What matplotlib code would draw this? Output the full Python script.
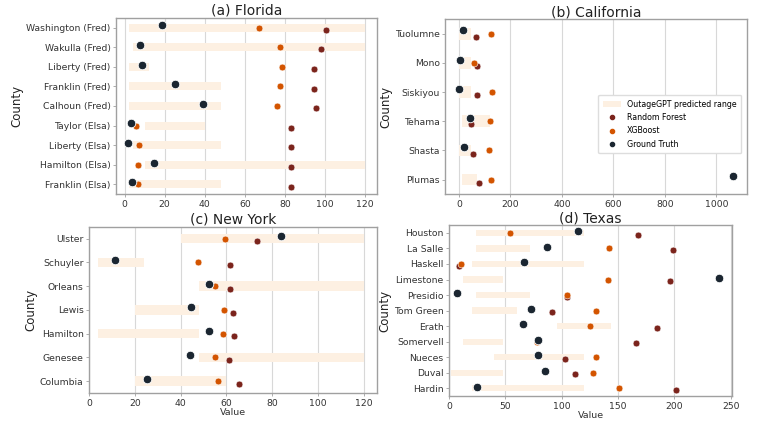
import matplotlib
matplotlib.use("Agg")
import matplotlib.pyplot as plt
from matplotlib.patches import Patch
from matplotlib.lines import Line2D

plt.rcParams['font.family'] = ['DejaVu Sans']

# ---------------- data ----------------
fl_counties = ["Washington (Fred)", "Wakulla (Fred)", "Liberty (Fred)", "Franklin (Fred)",
               "Calhoun (Fred)", "Taylor (Elsa)", "Liberty (Elsa)", "Hamilton (Elsa)", "Franklin (Elsa)"]
fl_gt = [18.6, 7.8, 8.8, 25.3, 39.4, 3.2, 1.7, 14.6, 3.5]
fl_xgb = [67.0, 77.6, 78.6, 77.6, 76.3, 5.8, 7.3, 6.5, 6.8]
fl_rf = [100.5, 97.9, 94.6, 94.7, 95.4, 83.0, 83.0, 83.0, 83.0]
fl_lo = [2, 4, 2, 2, 2, 10, 4, 10, 2]
fl_hi = [120, 120, 12, 48, 48, 40, 48, 120, 48]

ca_counties = ["Tuolumne", "Mono", "Siskiyou", "Tehama", "Shasta", "Plumas"]
ca_gt = [17, 4, 0, 41, 20, 1065]
ca_xgb = [126, 57, 127, 122, 118, 124]
ca_rf = [65, 71, 71, 46, 53, 77]
ca_lo = [2, 2, 2, 10, 2, 10]
ca_hi = [48, 48, 48, 120, 48, 72]

ny_counties = ["Ulster", "Schuyler", "Orleans", "Lewis", "Hamilton", "Genesee", "Columbia"]
ny_gt = [83.7, 11.3, 52.2, 44.7, 52.6, 44.0, 25.1]
ny_xgb = [59.6, 47.8, 55.1, 58.8, 58.7, 54.9, 56.5]
ny_rf = [73.4, 61.8, 61.8, 63.1, 63.5, 61.3, 65.6]
ny_lo = [40, 4, 48, 20, 4, 48, 20]
ny_hi = [120, 24, 120, 48, 48, 120, 60]

tx_counties = ["Houston", "La Salle", "Haskell", "Limestone", "Presidio", "Tom Green",
               "Erath", "Somervell", "Nueces", "Duval", "Hardin"]
tx_gt = [114.6, 86.9, 66.3, 239.3, 6.8, 72.8, 65.4, 78.9, 78.9, 84.8, 24.6]
tx_xgb = [54.4, 141.9, 10.7, 141.0, 104.7, 130.2, 124.7, 78.0, 130.2, 127.5, 150.5]
tx_rf = [167.7, 199.0, 8.6, 196.0, 104.4, 91.2, 184.6, 165.5, 102.6, 112.0, 201.2]
tx_lo = [24, 24, 20, 12, 24, 20, 96, 12, 40, 2, 20]
tx_hi = [120, 72, 120, 48, 72, 60, 144, 48, 120, 48, 120]

panels = [
    ("(a) Florida", fl_counties, fl_gt, fl_xgb, fl_rf, fl_lo, fl_hi, [0, 20, 40, 60, 80, 100, 120], False),
    ("(b) California", ca_counties, ca_gt, ca_xgb, ca_rf, ca_lo, ca_hi, [0, 200, 400, 600, 800, 1000], False),
    ("(c) New York", ny_counties, ny_gt, ny_xgb, ny_rf, ny_lo, ny_hi, [0, 20, 40, 60, 80, 100, 120], True),
    ("(d) Texas", tx_counties, tx_gt, tx_xgb, tx_rf, tx_lo, tx_hi, [0, 50, 100, 150, 200, 250], True),
]

# ---------------- style ----------------
C_BAR = '#FDF0E2'
C_RF = '#7B241C'
C_XGB = '#D35400'
C_GT = '#1B2631'
SPINE = '#A0A0A0'
GRID = '#D8D8D8'

positions = [
    [0.151, 0.542, 0.339, 0.416],
    [0.579, 0.542, 0.392, 0.413],
    [0.116, 0.073, 0.374, 0.392],
    [0.584, 0.066, 0.368, 0.403],
]

fig = plt.figure(figsize=(7.69, 4.24), dpi=100)

for pos, (title, cats, gt, xgb, rf, lo, hi, xt, show_xlabel) in zip(positions, panels):
    ax = fig.add_axes(pos)
    y = list(range(len(cats)))
    widths = [h - l for l, h in zip(lo, hi)]
    ax.barh(y, widths, left=lo, height=0.4, color=C_BAR, zorder=1)
    ax.scatter(rf, [v + 0.11 for v in y], s=24, color=C_RF, edgecolor='white', linewidth=0.4, zorder=3)
    ax.scatter(xgb, y, s=24, color=C_XGB, edgecolor='white', linewidth=0.4, zorder=4)
    ax.scatter(gt, [v - 0.11 for v in y], s=38, color=C_GT, edgecolor='white', linewidth=0.6, zorder=5)
    ax.set_yticks(y)
    ax.set_yticklabels(cats)
    ax.set_ylim(len(cats) - 0.5, -0.5)
    ax.set_xticks(xt)
    ax.grid(axis='x', color=GRID, linewidth=0.8, zorder=0)
    ax.set_axisbelow(True)
    for sp in ax.spines.values():
        sp.set_color(SPINE)
        sp.set_linewidth(1.0)
    ax.tick_params(axis='both', labelsize=6.7, colors='#333333', length=2.5, width=0.6, pad=1.5)
    ax.tick_params(axis='both', color=SPINE)
    ax.set_title(title, fontsize=10, pad=1.5, color='#222222')
    ax.set_ylabel("County", fontsize=8.5, labelpad=2, color='#222222')
    if show_xlabel:
        ax.set_xlabel("Value", fontsize=6.8, labelpad=0.5, color='#333333')
    if title.startswith("(b)"):
        handles = [
            Patch(facecolor=C_BAR, edgecolor='none', label='OutageGPT predicted range'),
            Line2D([], [], marker='o', linestyle='none', color=C_RF, markersize=3.0, label='Random Forest'),
            Line2D([], [], marker='o', linestyle='none', color=C_XGB, markersize=3.0, label='XGBoost'),
            Line2D([], [], marker='o', linestyle='none', color=C_GT, markersize=3.0, label='Ground Truth'),
        ]
        ax.legend(handles=handles, loc='center right', fontsize=5.7, frameon=True,
                  edgecolor='#DDDDDD', framealpha=1.0, handlelength=2.2, borderpad=0.6,
                  labelspacing=0.55, bbox_to_anchor=(0.995, 0.40))

fig.savefig("out.png", dpi=100)
